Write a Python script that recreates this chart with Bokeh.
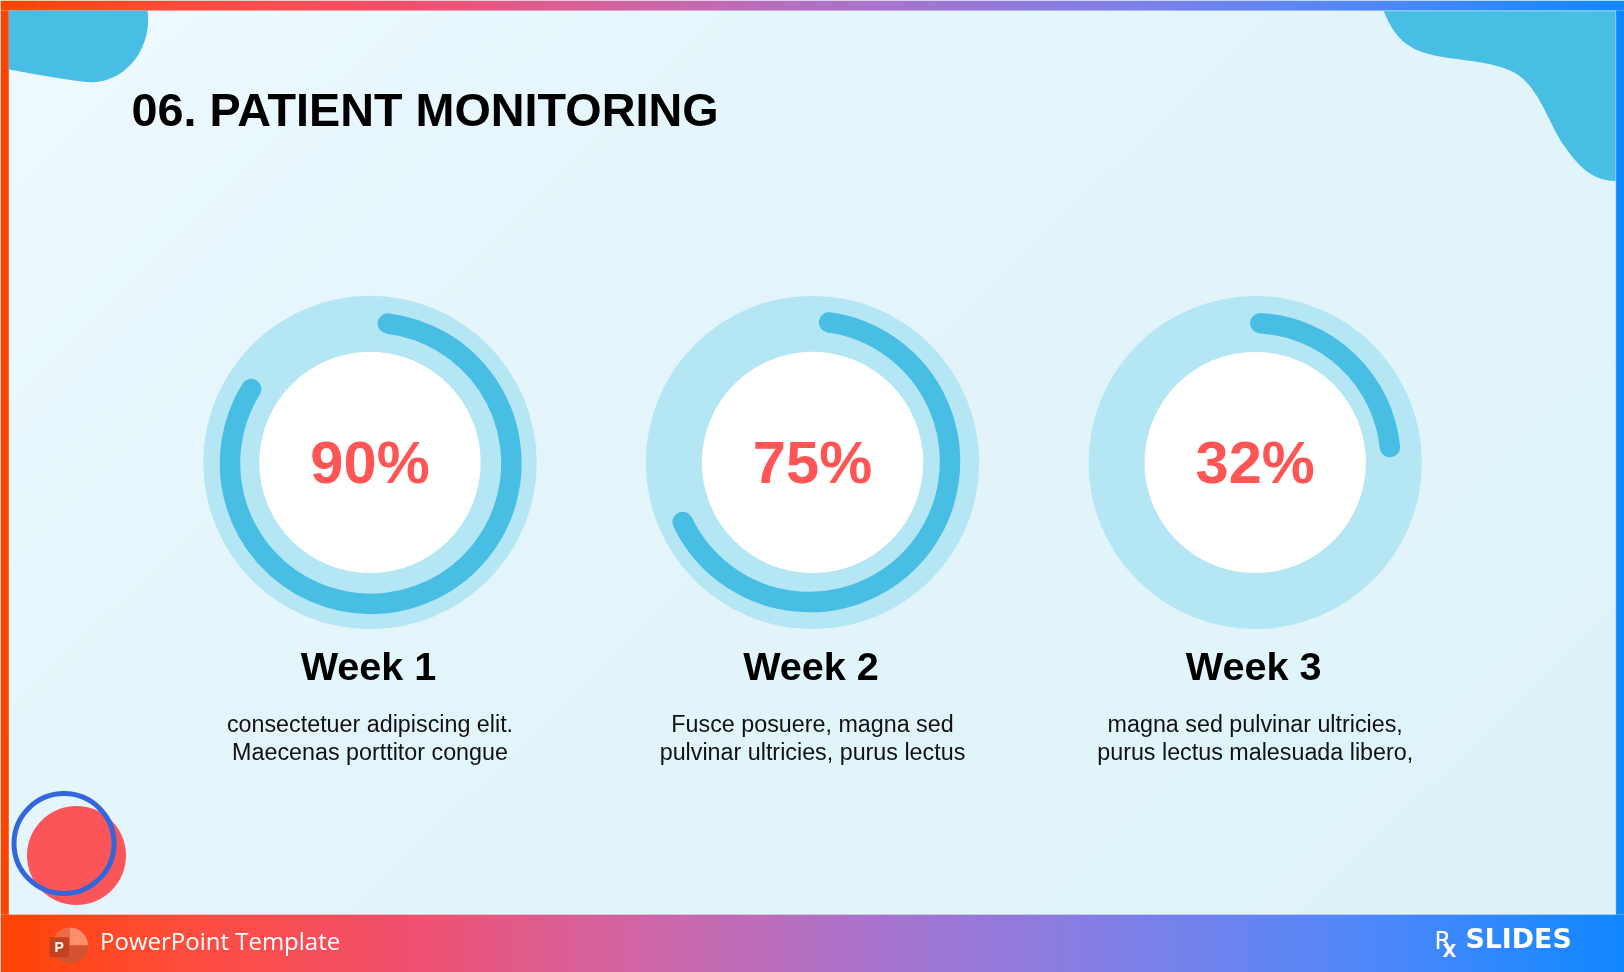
from bokeh.plotting import figure
from bokeh.models import Range1d
from bokeh.embed import file_html
from bokeh.resources import INLINE
from bokeh.core.properties import value
import numpy as np

# ---- chart content ----
title_text = "06. PATIENT MONITORING"
week_labels = ["Week 1", "Week 2", "Week 3"]
percent_labels = ["90%", "75%", "32%"]
arc_sweep_deg = [294.8, 236.5, 80.6]
desc_line1 = ["consectetuer adipiscing elit.", "Fusce posuere, magna sed", "magna sed pulvinar ultricies,"]
desc_line2 = ["Maecenas porttitor congue", "pulvinar ultricies, purus lectus", "purus lectus malesuada libero,"]
footer_text = "PowerPoint Template"

W, H = 1624, 972
def Y(v):
    return H - np.asarray(v, dtype=float)

p = figure(width=W, height=H, x_range=Range1d(0, W), y_range=Range1d(0, H),
           output_backend="svg", toolbar_location=None, min_border=0,
           outline_line_color=None, background_fill_color="#e3f5fb", border_fill_color=None)
p.axis.visible = False
p.grid.visible = False
p.styles = {"position": "fixed", "left": "0px", "top": "0px"}

# ---- panel background ----
pw, ph = 406, 243
gx, gy = np.meshgrid(np.linspace(0, 1, pw), np.linspace(1, 0, ph))
d = gx * 0.62 + gy * 0.38
c0 = np.array([238, 250, 255.0]); c1 = np.array([228, 245, 251.0]); c2 = np.array([221, 243, 249.0])
t = np.clip(d / 0.32, 0, 1)[..., None]
t2 = np.clip((d - 0.32) / 0.68, 0, 1)[..., None]
rgb = (c0 * (1 - t) + c1 * t) * (1 - t2) + c2 * t2
rgba = np.zeros((ph, pw), dtype=np.uint32)
view = rgba.view(np.uint8).reshape(ph, pw, 4)
view[..., :3] = rgb.round().astype(np.uint8)
view[..., 3] = 255
p.image_rgba(image=[rgba], x=[0], y=[0], dw=[W], dh=[H])

# ---- frame gradient ----
stops_x = [0, 0.06, 0.12, 0.25, 0.40, 0.55, 0.70, 0.84, 1.0]
stops_rgb = np.array([(255, 68, 0), (255, 72, 35), (255, 77, 64), (240, 80, 110), (206, 102, 168),
                      (165, 116, 208), (125, 128, 232), (80, 136, 250), (15, 136, 255)], dtype=float)
def grad_colour(t):
    c = [np.interp(t, stops_x, stops_rgb[:, i]) for i in range(3)]
    return "#%02x%02x%02x" % tuple(int(round(v)) for v in c)

xs = np.arange(0, W, 4)
cols = [grad_colour((x + 2) / W) for x in xs]
p.quad(left=xs, right=xs + 4.5, top=H, bottom=Y(10), fill_color=cols, line_color=None)
p.quad(left=xs, right=xs + 4.5, top=Y(914), bottom=0, fill_color=cols, line_color=None)
p.quad(left=0, right=8.3, top=Y(10), bottom=Y(914), fill_color="#ff4400", line_color=None)
p.quad(left=1615.3, right=W, top=Y(10), bottom=Y(914), fill_color="#0f88ff", line_color=None)

# ---- blobs ----
def bez(a, b, c, d, n=40):
    u = np.linspace(0, 1, n)[:, None]
    a, b, c, d = map(np.array, (a, b, c, d))
    return (1 - u) ** 3 * a + 3 * (1 - u) ** 2 * u * b + 3 * (1 - u) * u ** 2 * c + u ** 3 * d

BLOB = "#49bee5"
left_blob = np.vstack([[(8.3, 10), (147, 10)],
                       bez((147, 10), (152, 48), (125, 82), (90, 81.7)),
                       bez((90, 81.7), (75, 81), (30, 73), (8.3, 69))])
p.patch(left_blob[:, 0], Y(left_blob[:, 1]), fill_color=BLOB, line_color=None)

right_blob = np.vstack([[(1615.3, 180.5), (1615.3, 10), (1383, 10)],
                        bez((1383, 10), (1393, 35), (1405, 48), (1430, 54)),
                        bez((1430, 54), (1455, 60), (1485, 60), (1507, 69)),
                        bez((1507, 69), (1535, 79), (1545, 115), (1560, 140)),
                        bez((1560, 140), (1577, 165), (1590, 180), (1615.3, 180.5))])
p.patch(right_blob[:, 0], Y(right_blob[:, 1]), fill_color=BLOB, line_color=None)

# thin pale edge of the panel
p.line([1383, 1615.3, 1615.3, 8.3], Y([10.5, 10.5, 914, 914]), line_color="white", line_alpha=0.3, line_width=1)

# ---- decorative circles ----
p.circle(x=[76], y=Y([855]), radius=49.5, fill_color="#fa5659", line_color=None)
p.circle(x=[63.5], y=Y([843]), radius=50, fill_color=None, line_color="#3366dd", line_width=5)

# ---- gauges ----
cx = np.array([369.5, 812, 1254.7])
cy = np.full(3, 462)
p.circle(x=cx, y=Y(cy), radius=166.7, fill_color="#b5e6f4", line_color=None)
p.circle(x=cx, y=Y(cy), radius=110.7, fill_color="white", line_color=None)
arc_x = np.array([370.2, 809, 1251.7])
arc_y = np.array([462.7, 461, 461])
arc_r = np.array([140.7, 140.5, 138.5])
arc_start = np.array([83.0, 82.0, 86.6])
p.arc(x=arc_x, y=Y(arc_y), radius=arc_r, start_angle=arc_start, end_angle=arc_start - np.array(arc_sweep_deg),
      start_angle_units="deg", end_angle_units="deg", direction="clock",
      line_color=BLOB, line_width=20.5, line_cap="round")

ARIAL = value("Liberation Sans")
def txt(x, base, labels, size, color, font=ARIAL, style="normal", align="center"):
    # the svg backend draws alphabetic text 0.4 em low
    yy = Y(np.asarray(base, dtype=float) - 0.4 * size)
    p.text(x=x, y=yy, text=labels, text_font=font, text_font_style=style, text_font_size=f"{size}px",
           text_color=color, text_align=align, text_baseline="alphabetic")

txt(cx, np.full(3, 486.3), percent_labels, 59.6, "#ff5555", style="bold")
txt(cx - 1.5, np.full(3, 681), week_labels, 39.6, "#000000", style="bold")
txt(cx, np.full(3, 733), desc_line1, 23.3, "#111111")
txt(cx, np.full(3, 761), desc_line2, 23.3, "#111111")
txt([131], [128.5], [title_text], 46.75, "#000000", style="bold", align="left")

# ---- footer ----
ic = (69.5, 945)
p.wedge(x=[ic[0]] * 4, y=Y([ic[1]] * 4), radius=18,
        start_angle=[0, 90, 180, 270], end_angle=[90, 180, 270, 360],
        start_angle_units="deg", end_angle_units="deg",
        fill_color=["#ff8f6b", "#ed6c47", "#d35230", "#d35230"], line_color=None)
p.quad(left=49, right=68.5, top=Y(936.7), bottom=Y(956.7), fill_color="#c5421f", line_color=None)
txt([58.7], [952], ["P"], 14, "white", style="bold")
txt([99.5], [949.5], [footer_text], 24, "white", font=value("Open Sans"), align="left")
DJ = value("DejaVu Sans")
txt([1434], [950.5], ["R"], 24, "white", font=DJ, align="left")
txt([1442], [957.5], ["X"], 18, "white", font=DJ, style="bold", align="left")
txt([1465], [948.5], ["SLIDES"], 26.8, "white", font=DJ, style="bold", align="left")

open("out.html", "w").write(file_html(p, INLINE))
